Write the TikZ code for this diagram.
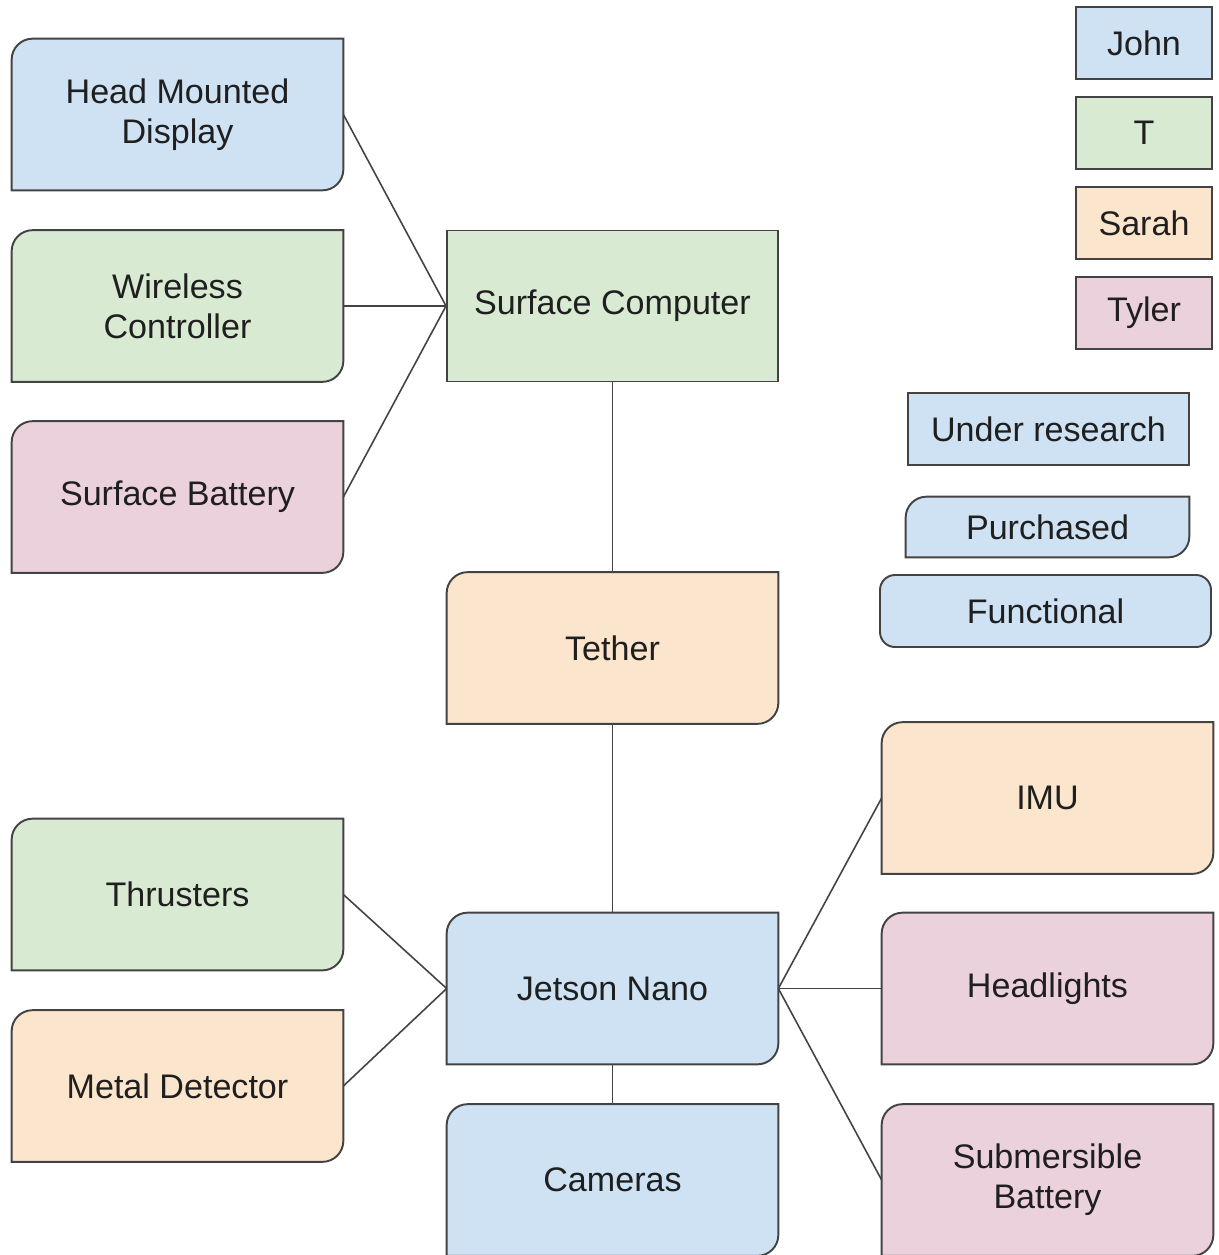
\documentclass[tikz,border=0pt]{standalone}
\usepackage{fontspec}
\setmainfont{Liberation Sans}
\usetikzlibrary{backgrounds}

\definecolor{johnblue}{HTML}{CFE2F3}
\definecolor{tgreen}{HTML}{D9EAD3}
\definecolor{sarahorange}{HTML}{FCE5CD}
\definecolor{tylerpink}{HTML}{EAD1DC}
\definecolor{edgegray}{HTML}{434343}
\definecolor{textgray}{HTML}{1F1F1F}

\newcommand{\crad}{0.42cm}

\tikzset{
  label font/.style={font=\fontsize{19.4}{22.8}\selectfont, text=textgray},
  part/.style={label font, align=center, inner sep=0pt,
    minimum width=6.62cm, minimum height=3.02cm},
  sharpbox/.style={draw=edgegray, line width=1.1pt},
  legendbox/.style={label font, inner sep=0pt, align=center, sharpbox,
    minimum width=2.72cm, minimum height=1.44cm},
  statebox/.style={label font, inner sep=0pt, align=center,
    minimum height=1.44cm},
  wire/.style={draw=edgegray, line width=0.9pt},
}

\begin{document}
\begin{tikzpicture}
  \useasboundingbox (0,0) rectangle (24.38,-25.1);

  % parts of the system
  \node[part] (hmd) at (3.55,-2.29) {Head Mounted\\Display};
  \node[part] (wctrl) at (3.55,-6.12) {Wireless\\Controller};
  \node[part] (sbatt) at (3.55,-9.94) {Surface Battery};
  \node[part, sharpbox, fill=tgreen] (scomp) at (12.25,-6.12) {Surface Computer};
  \node[part] (tether) at (12.25,-12.96) {Tether};
  \node[part] (jetson) at (12.25,-19.77) {Jetson Nano};
  \node[part] (cams) at (12.25,-23.6) {Cameras};
  \node[part] (thrust) at (3.55,-17.89) {Thrusters};
  \node[part] (metal) at (3.55,-21.72) {Metal Detector};
  \node[part] (imu) at (20.95,-15.96) {IMU};
  \node[part] (hlights) at (20.95,-19.77) {Headlights};
  \node[part] (subbatt) at (20.95,-23.6) {Submersible\\Battery};

  % legend
  \node[legendbox, fill=johnblue] (john) at (22.88,-0.86) {John};
  \node[legendbox, fill=tgreen] (tee) at (22.88,-2.66) {T};
  \node[legendbox, fill=sarahorange] (sarah) at (22.88,-4.46) {Sarah};
  \node[legendbox, fill=tylerpink] (tyler) at (22.88,-6.26) {Tyler};
  \node[statebox, sharpbox, fill=johnblue, minimum width=5.62cm] (research) at (20.97,-8.58) {Under research};
  \node[statebox, minimum width=5.66cm, minimum height=1.2cm] (bought) at (20.95,-10.54) {Purchased};
  \node[statebox, draw=edgegray, line width=1.1pt, fill=johnblue, rounded corners=0.3cm,
    minimum width=6.62cm] (works) at (20.91,-12.22) {Functional};

  % boxes with two round corners
  \begin{scope}[on background layer]
    \foreach \n/\c in {hmd/johnblue, wctrl/tgreen, sbatt/tylerpink, tether/sarahorange,
        jetson/johnblue, cams/johnblue, thrust/tgreen, metal/sarahorange,
        imu/sarahorange, hlights/tylerpink, subbatt/tylerpink, bought/johnblue}
      \draw[sharpbox, fill=\c] (\n.south west) -- ([yshift=-\crad]\n.north west)
        arc[start angle=180, end angle=90, radius=\crad] -- (\n.north east)
        -- ([yshift=\crad]\n.south east)
        arc[start angle=0, end angle=-90, radius=\crad] -- cycle;
  \end{scope}

  % connections
  \draw[wire] (hmd.east) -- (scomp.west);
  \draw[wire] (wctrl.east) -- (scomp.west);
  \draw[wire] (sbatt.east) -- (scomp.west);
  \draw[wire] (scomp.south) -- (tether.north);
  \draw[wire] (tether.south) -- (jetson.north);
  \draw[wire] (jetson.south) -- (cams.north);
  \draw[wire] (thrust.east) -- (jetson.west);
  \draw[wire] (metal.east) -- (jetson.west);
  \draw[wire] (jetson.east) -- (imu.west);
  \draw[wire] (jetson.east) -- (hlights.west);
  \draw[wire] (jetson.east) -- (subbatt.west);
\end{tikzpicture}
\end{document}
